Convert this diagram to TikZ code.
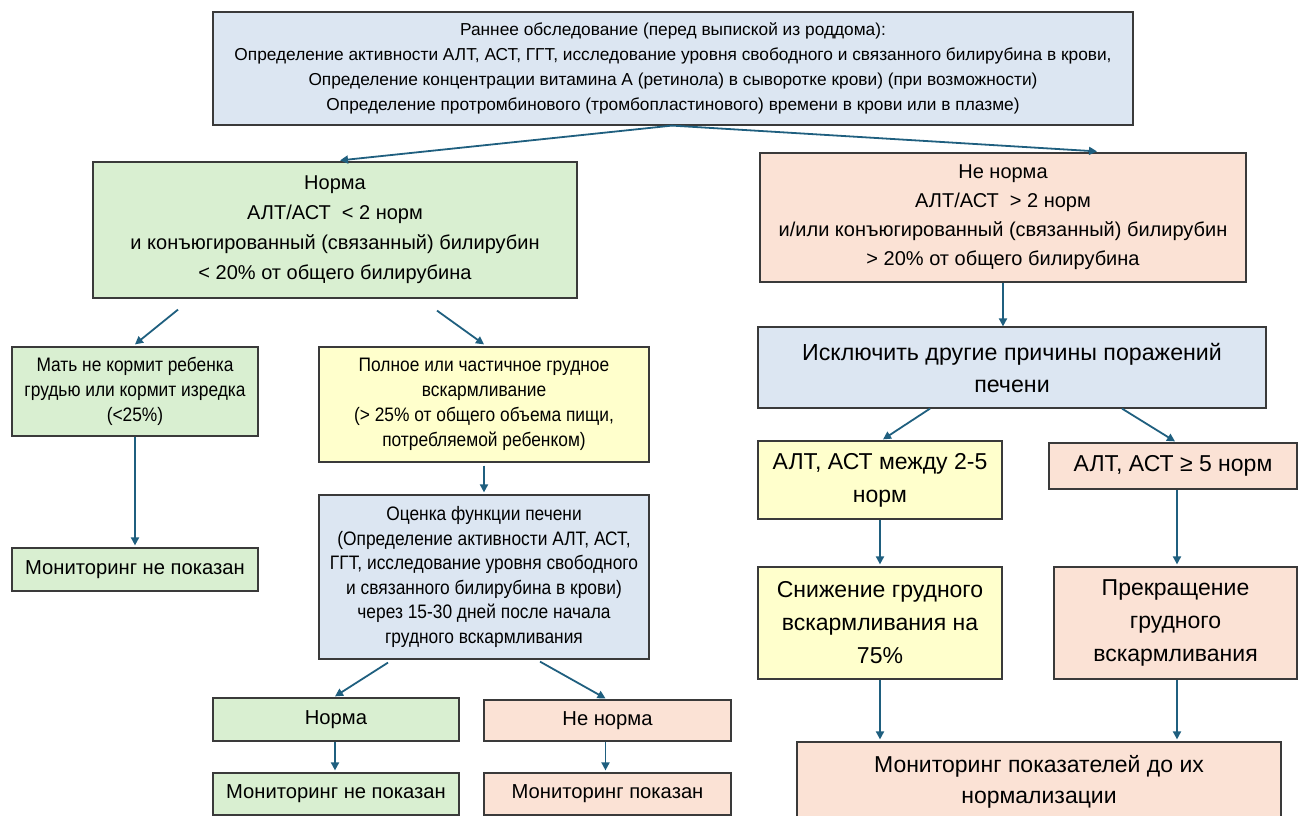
\documentclass[tikz,border=0pt]{standalone}
\usepackage{fontspec}
\setmainfont{Liberation Sans}
\newfontfamily\narrowfont[FakeStretch=0.89]{Liberation Sans}
\usetikzlibrary{arrows.meta}
\definecolor{bluefill}{HTML}{DCE6F2}
\definecolor{greenfill}{HTML}{D9EFD1}
\definecolor{yellowfill}{HTML}{FFFFCC}
\definecolor{peachfill}{HTML}{FBE2D5}
\definecolor{boxline}{HTML}{3A3A3A}
\definecolor{arrowc}{HTML}{1F5F7F}
\begin{document}
\begin{tikzpicture}[x=1pt,y=-1pt,
  box/.style={draw=boxline, line width=1.2pt, rectangle, align=center, inner sep=0pt},
  bluebox/.style={box, fill=bluefill},
  greenbox/.style={box, fill=greenfill},
  yellowbox/.style={box, fill=yellowfill},
  peachbox/.style={box, fill=peachfill},
  arr/.style={draw=arrowc, line width=1.8pt, -{Triangle[length=8pt,width=8pt]}},
  fsmall/.style={font=\fontsize{17.3}{25}\selectfont},
  fmid/.style={font=\fontsize{20}{30}\selectfont},
  fnarrow/.style={font=\narrowfont\fontsize{19.5}{25}\selectfont},
  fone/.style={font=\fontsize{20.2}{24}\selectfont},
  fbig/.style={font=\fontsize{23}{33}\selectfont},
]
\useasboundingbox (0,0) rectangle (1298,816);

\node[bluebox, fsmall, minimum width=920pt, minimum height=113pt] (top) at (673,68.5)
 {Раннее обследование (перед выпиской из роддома):\\
  Определение активности АЛТ, АСТ, ГГТ, исследование уровня свободного и связанного билирубина в крови,\\
  Определение концентрации витамина А (ретинола) в сыворотке крови) (при возможности)\\
  Определение протромбинового (тромбопластинового) времени в крови или в плазме)};

\node[greenbox, fmid, minimum width=484pt, minimum height=136pt] (normaL) at (335,230)
 {Норма\\АЛТ/АСТ \ < 2 норм\\и конъюгированный (связанный) билирубин\\< 20\% от общего билирубина};

\node[peachbox, font=\fontsize{20}{29}\selectfont, minimum width=486pt, minimum height=129pt] (nenorma) at (1003,217.5)
 {Не норма\\АЛТ/АСТ \ > 2 норм\\и/или конъюгированный (связанный) билирубин\\> 20\% от общего билирубина};

\node[greenbox, fnarrow, minimum width=246pt, minimum height=89pt] (mat) at (135,391.5)
 {Мать не кормит ребенка\\грудью или кормит изредка\\(<25\%)};

\node[yellowbox, fnarrow, minimum width=330pt, minimum height=115pt] (polnoe) at (484,404.5)
 {Полное или частичное грудное\\вскармливание\\(> 25\% от общего объема пищи,\\потребляемой ребенком)};

\node[greenbox, fone, minimum width=246pt, minimum height=43pt] (monL) at (135,569.5)
 {Мониторинг не показан};

\node[bluebox, font=\narrowfont\fontsize{19.5}{24.5}\selectfont, minimum width=330pt, minimum height=164pt] (ocenka) at (484,577)
 {Оценка функции печени\\(Определение активности АЛТ, АСТ,\\ГГТ, исследование уровня свободного\\и связанного билирубина в крови)\\через 15-30 дней после начала\\грудного вскармливания};

\node[greenbox, fone, minimum width=246pt, minimum height=43pt] (norm2) at (336,719.5) {Норма};
\node[peachbox, fone, minimum width=247pt, minimum height=41pt] (nenorm2) at (607.5,720.5) {Не норма};
\node[greenbox, fone, minimum width=246pt, minimum height=42pt] (mon2) at (336,794) {Мониторинг не показан};
\node[peachbox, fone, minimum width=247pt, minimum height=42pt] (mon3) at (607.5,794) {Мониторинг показан};

\node[bluebox, font=\fontsize{23.2}{32}\selectfont, minimum width=508pt, minimum height=81pt] (iskl) at (1012,367.5)
 {Исключить другие причины поражений\\печени};
\node[yellowbox, fbig, minimum width=244pt, minimum height=78pt] (alt25) at (880,480)
 {АЛТ, АСТ между 2-5\\норм};
\node[peachbox, fbig, minimum width=248pt, minimum height=46pt] (alt5) at (1173,466)
 {АЛТ, АСТ ≥ 5 норм};
\node[yellowbox, fbig, minimum width=244pt, minimum height=112pt] (snizh) at (880,623)
 {Снижение грудного\\вскармливания на\\75\%};
\node[peachbox, fbig, minimum width=243pt, minimum height=112pt] (prekr) at (1175.5,623)
 {Прекращение\\грудного\\вскармливания};
\node[peachbox, font=\fontsize{23}{31}\selectfont, minimum width=484pt, minimum height=80pt] (mon) at (1039,782)
 {Мониторинг показателей до их\\нормализации};

% connectors
\draw[arr] ([xshift=-1pt]top.south) -- ([xshift=5pt,yshift=1pt]normaL.north);
\draw[arr] ([xshift=-1pt]top.south) -- ([xshift=94pt,yshift=1pt]nenorma.north);
\draw[arr] ([xshift=-157pt,yshift=-11pt]normaL.south) -- ([yshift=2pt]mat.north);
\draw[arr] ([xshift=102pt,yshift=-12pt]normaL.south) -- ([yshift=2pt]polnoe.north);
\draw[arr] (mat.south) -- ([yshift=2pt]monL.north);
\draw[arr] ([yshift=-3pt]polnoe.south) -- ([yshift=2pt]ocenka.north);
\draw[arr] ([xshift=-96pt,yshift=-3pt]ocenka.south) -- ([xshift=-1pt,yshift=1pt]norm2.north);
\draw[arr] ([xshift=56pt,yshift=-2pt]ocenka.south) -- ([xshift=-2pt,yshift=1pt]nenorm2.north);
\draw[arr] ([xshift=-1pt]norm2.south) -- ([xshift=-1pt,yshift=2pt]mon2.north);
\draw[arr] ([xshift=-2pt]nenorm2.south) -- ([xshift=-2pt,yshift=2pt]mon3.north);
\draw[arr] (nenorma.south) -- (nenorma.south |- iskl.north);
\draw[arr] ([xshift=-82pt]iskl.south) -- ([xshift=3pt,yshift=1pt]alt25.north);
\draw[arr] ([xshift=110pt]iskl.south) -- ([xshift=2pt,yshift=1pt]alt5.north);
\draw[arr] (alt25.south) -- ([yshift=2pt]snizh.north);
\draw[arr] ([xshift=1.5pt]prekr.north |- alt5.south) -- ([xshift=1.5pt,yshift=2pt]prekr.north);
\draw[arr] (snizh.south) -- ([yshift=2pt]snizh.south |- mon.north);
\draw[arr] ([xshift=1.5pt]prekr.south) -- ([xshift=1.5pt,yshift=2pt]prekr.south |- mon.north);
\end{tikzpicture}
\end{document}
